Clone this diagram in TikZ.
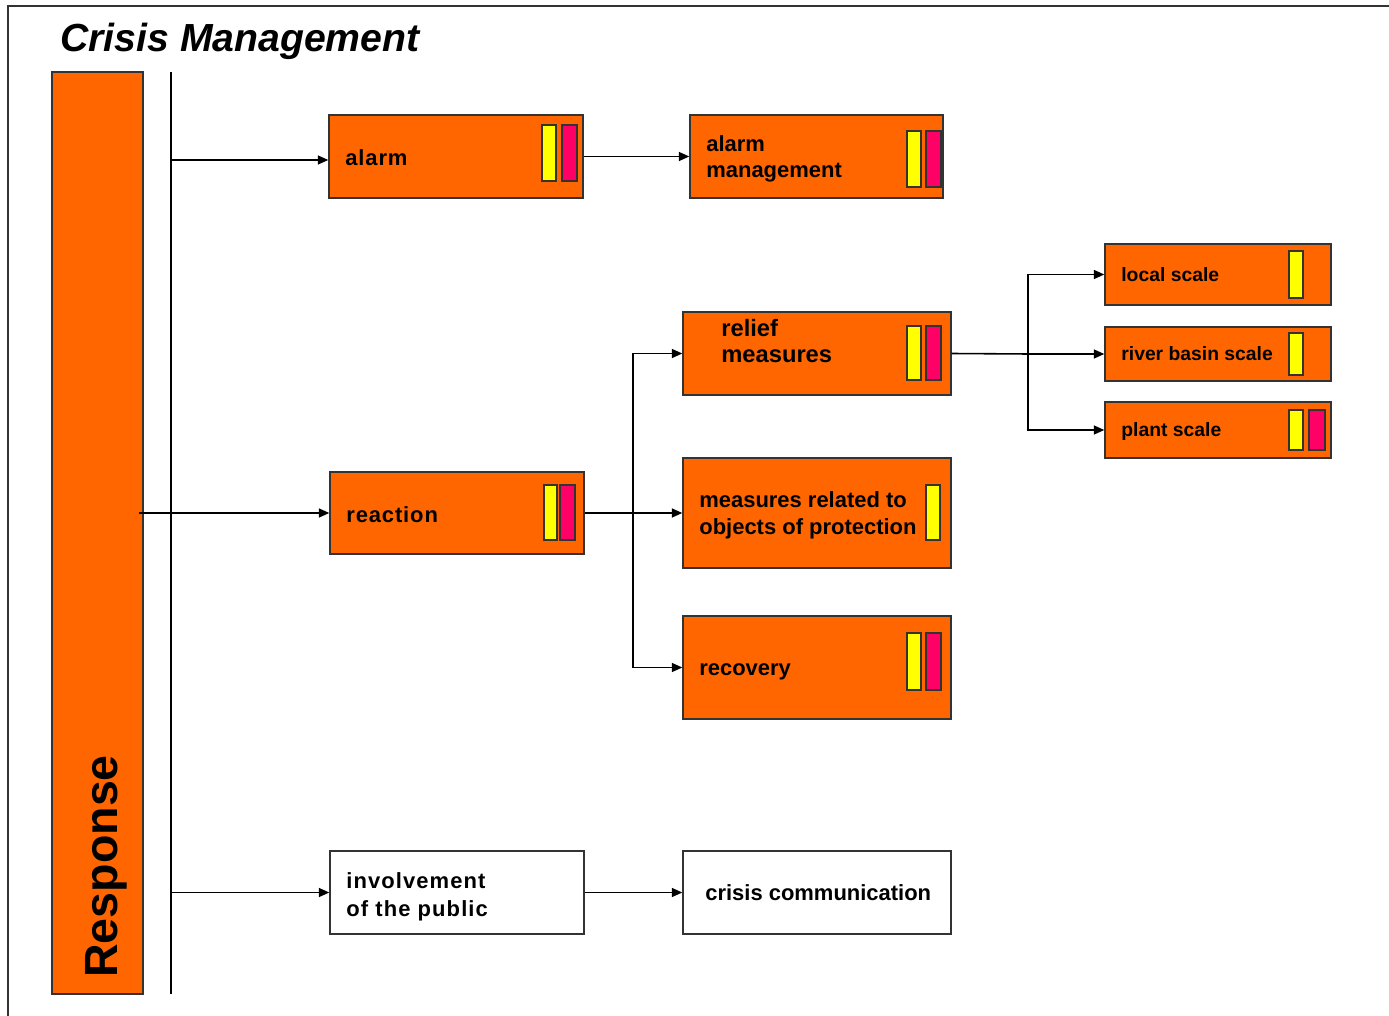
\documentclass[tikz,border=0pt]{standalone}
\usepackage{fontspec}
\setmainfont{Liberation Sans}
\usetikzlibrary{arrows.meta,fit}
\definecolor{cmorange}{HTML}{FF6600}
\definecolor{cmyellow}{HTML}{FFFF00}
\definecolor{cmpink}{HTML}{FF0066}
\definecolor{cmline}{HTML}{333333}
\begin{document}
\begin{tikzpicture}[x=0.02cm,y=-0.02cm,
  box/.style={draw=cmline, line width=0.8pt, fill=cmorange, inner sep=0pt},
  wbox/.style={draw=cmline, line width=0.8pt, fill=white, inner sep=0pt},
  ybar/.style={draw=cmline, line width=0.7pt, fill=cmyellow},
  pbar/.style={draw=cmline, line width=0.7pt, fill=cmpink},
  lbl/.style={anchor=base west, inner sep=0pt, font=\bfseries\fontsize{12.5}{15}\selectfont},
  blbl/.style={anchor=base west, inner sep=0pt, font=\bfseries\fontsize{13.5}{16}\selectfont},
  slbl/.style={anchor=base west, inner sep=0pt, font=\bfseries\fontsize{11}{13}\selectfont},
  arr/.style={draw=black, line width=0.9pt, -{Triangle[length=2.1mm,width=1.8mm]}},
  conn/.style={draw=black, line width=0.9pt},
]
\useasboundingbox (0,0) rectangle (1389,1016);
% frame
\draw[cmline, line width=1pt] (8,1016) -- (8,6) -- (1389,6);
% title
\node[anchor=base west, inner sep=0pt, font=\bfseries\itshape\fontsize{22.3}{26}\selectfont] (title) at (60,52) {Crisis Management};
% response bar
\node[box, fit={(52,72) (143,994)}] (resp) {};
\node[rotate=90, anchor=base west, inner sep=0pt, font=\bfseries\fontsize{26.5}{30}\selectfont] (resptext) at (117,978) {Response};
% vertical line
\coordinate (vt) at (171,72);
\coordinate (vb) at (171,994);
\draw[conn] (vt) -- (vb);

% boxes
\node[box, fit={(329,115) (583,198)}] (alarm) {};
\node[box, fit={(690,115) (943,198)}] (amgmt) {};
\node[box, fit={(683,312) (951,395)}] (relief) {};
\node[box, fit={(1105,244) (1331,305)}] (local) {};
\node[box, fit={(1105,327) (1331,381)}] (river) {};
\node[box, fit={(1105,402) (1331,458)}] (plant) {};
\node[box, fit={(330,472) (584,554)}] (reaction) {};
\node[box, fit={(683,458) (951,568)}] (objects) {};
\node[box, fit={(683,616) (951,719)}] (recovery) {};
\node[wbox, fit={(330,851) (584,934)}] (public) {};
\node[wbox, fit={(683,851) (951,934)}] (crisis) {};

% bars
\draw[ybar] (542,125) rectangle (556,181);
\draw[pbar] (562,125) rectangle (577,181);
\draw[ybar] (907,131) rectangle (921,187);
\draw[pbar] (926,131) rectangle (941,187);
\draw[ybar] (907,326) rectangle (921,380);
\draw[pbar] (926,326) rectangle (941,380);
\draw[ybar] (544,485) rectangle (557,540);
\draw[pbar] (560,485) rectangle (575,540);
\draw[ybar] (926,485) rectangle (940,540);
\draw[ybar] (907,633) rectangle (921,690);
\draw[pbar] (926,633) rectangle (941,690);
\draw[ybar] (1289,251) rectangle (1303,298);
\draw[ybar] (1289,333) rectangle (1303,375);
\draw[ybar] (1289,410) rectangle (1303,450);
\draw[pbar] (1309,410) rectangle (1325,450);

% labels
\node[lbl] (t-alarm) at (345,166) {\addfontfeature{LetterSpace=4}alarm};
\node[lbl] (t-am1) at (706,152) {alarm};
\node[lbl] (t-am2) at (706,178) {management};
\node[blbl] (t-rel1) at (721,337) {relief};
\node[blbl] (t-rel2) at (721,363) {measures};
\node[slbl] (t-local) at (1121,282) {local scale};
\node[slbl] (t-river) at (1121,361) {river basin scale};
\node[slbl] (t-plant) at (1121,437) {plant scale};
\node[lbl] (t-react) at (346,522) {\addfontfeature{LetterSpace=4}reaction};
\node[lbl] (t-obj1) at (699,507) {measures related to};
\node[lbl] (t-obj2) at (699,534) {objects of protection};
\node[lbl] (t-rec) at (699,675) {recovery};
\node[lbl] (t-pub1) at (346,888) {\addfontfeature{LetterSpace=5}involvement};
\node[lbl] (t-pub2) at (346,916) {\addfontfeature{LetterSpace=5}of the public};
\node[lbl] (t-cc) at (705,900) {crisis communication};

% connectors
\draw[arr] ([yshift=-3.5*0.02cm]vt |- alarm.west) -- ([yshift=-3.5*0.02cm]alarm.west);
\draw[arr] (alarm.east) -- (amgmt.west);
\draw[arr] ([xshift=-5*0.02cm]resp.east |- reaction.west) -- (reaction.west);
\coordinate (b1) at (633,513);
\draw[conn] (reaction.east) -- (b1);
\draw[arr] (b1) |- (relief.west);
\draw[arr] (b1) -- (objects.west);
\draw[arr] (b1) |- (recovery.west);
\coordinate (b2) at (1028,354);
\draw[conn] (relief.east) -- (b2);
\draw[arr] (b2) |- (local.west);
\draw[arr] (b2) -- (river.west);
\draw[arr] (b2) |- (plant.west);
\draw[arr] (vt |- public.west) -- (public.west);
\draw[arr] (public.east) -- (crisis.west);
\end{tikzpicture}
\end{document}
